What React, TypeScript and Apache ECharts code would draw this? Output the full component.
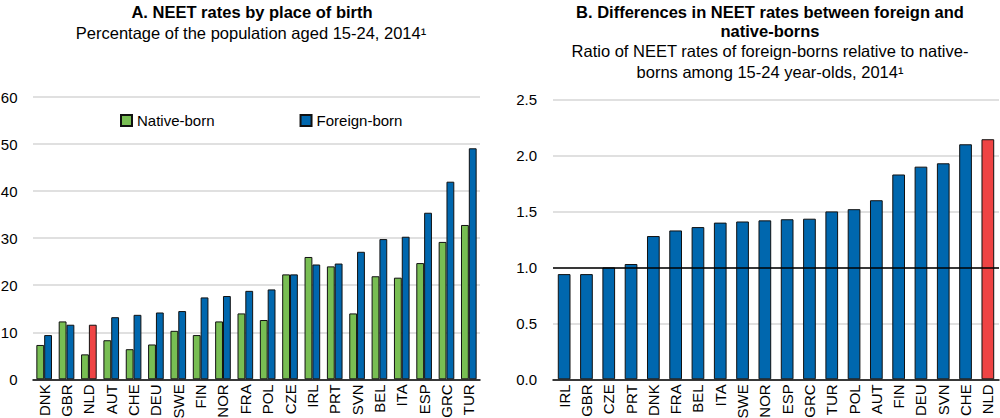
import React, { useEffect, useRef } from "react";
import * as echarts from "echarts";

const catsA = ["DNK","GBR","NLD","AUT","CHE","DEU","SWE","FIN","NOR","FRA","POL","CZE","IRL","PRT","SVN","BEL","ITA","ESP","GRC","TUR"];
const nativeBorn = [7.3,12.3,5.3,8.3,6.4,7.4,10.3,9.4,12.3,14.0,12.6,22.3,26.0,24.0,14.0,21.9,21.6,24.7,29.2,32.8];
const foreignBorn = [9.4,11.6,11.6,13.2,13.7,14.2,14.5,17.4,17.7,18.8,19.1,22.3,24.4,24.6,27.1,29.8,30.3,35.4,42.0,49.1];

const catsB = ["IRL","GBR","CZE","PRT","DNK","FRA","BEL","ITA","SWE","NOR","ESP","GRC","TUR","POL","AUT","FIN","DEU","SVN","CHE","NLD"];
const ratio = [0.94,0.94,1.0,1.03,1.28,1.33,1.36,1.40,1.41,1.42,1.43,1.435,1.50,1.52,1.60,1.83,1.90,1.93,2.10,2.145];

const highlight = ["NLD"];
const ticksA = { min: 0, max: 60, interval: 10 };
const ticksB = { min: 0, max: 2.5, interval: 0.5 };

const FONT = "'Liberation Sans', Arial, sans-serif";
const GREEN = "#78BE53";
const BLUE = "#0067AE";
const RED = "#EF4444";

export default function App() {
  const ref = useRef<HTMLDivElement>(null);
  useEffect(() => {
    document.body.style.margin = "0";
    const chart = echarts.init(ref.current!, null, { renderer: "svg" });
    const border = { borderColor: "#111", borderWidth: 1 };
    const axisLabelY = { color: "#000", fontSize: 15, fontFamily: FONT, margin: 15.5 };
    const axisLabelX = { color: "#000", fontSize: 15, fontFamily: FONT, rotate: 90, margin: 5, interval: 0 };
    const split = { show: true, lineStyle: { color: "#d6d6d6", width: 1.5 } };
    const xLine = { show: true, lineStyle: { color: "#000", width: 1.5 } };
    const txt = (text: string, x: number, y: number, bold: boolean) => ({
      type: "text",
      x,
      y,
      style: {
        text,
        fontSize: 16.5,
        fontWeight: bold ? "bold" : "normal",
        fontFamily: FONT,
        fill: "#000",
        textAlign: "center",
        textVerticalAlign: "middle",
      },
    });
    chart.setOption({
      animation: false,
      textStyle: { fontFamily: FONT },
      graphic: [
        txt("A. NEET rates by place of birth", 252, 12, true),
        txt("Percentage of the population aged 15-24, 2014¹", 251, 33, false),
        txt("B. Differences in NEET rates between foreign and", 770, 12, true),
        txt("native-borns", 770, 31, true),
        txt("Ratio of NEET rates of foreign-borns relative to native-", 770, 51, false),
        txt("borns among 15-24 year-olds, 2014¹", 770, 72, false),
      ],
      legend: {
        left: 120,
        top: 113,
        padding: 0,
        icon: "rect",
        itemWidth: 11,
        itemHeight: 11,
        itemGap: 85,
        textStyle: { color: "#000", fontSize: 15, fontFamily: FONT },
        data: ["Native-born", "Foreign-born"],
      },
      grid: [
        { left: 33, right: 520, top: 97, bottom: 38.7, outerBoundsMode: "none", containLabel: false },
        { left: 553, right: 1, top: 99.5, bottom: 38.7, outerBoundsMode: "none", containLabel: false },
      ],
      xAxis: [
        { type: "category", gridIndex: 0, data: catsA, axisLine: xLine, axisTick: { show: false }, axisLabel: axisLabelX },
        { type: "category", gridIndex: 1, data: catsB, axisLine: xLine, axisTick: { show: false }, axisLabel: axisLabelX },
      ],
      yAxis: [
        { type: "value", gridIndex: 0, ...ticksA, axisLine: { show: false }, axisTick: { show: false }, axisLabel: axisLabelY, splitLine: split },
        {
          type: "value", gridIndex: 1, ...ticksB, axisLine: { show: false }, axisTick: { show: false },
          axisLabel: { ...axisLabelY, margin: 16, formatter: (v: number) => v.toFixed(1) }, splitLine: split,
        },
      ],
      series: [
        {
          name: "Native-born", type: "bar", xAxisIndex: 0, yAxisIndex: 0,
          data: nativeBorn, barGap: "0%", barCategoryGap: "30%",
          itemStyle: { color: GREEN, ...border },
        },
        {
          name: "Foreign-born", type: "bar", xAxisIndex: 0, yAxisIndex: 0,
          data: foreignBorn.map((v, i) => highlight.includes(catsA[i]) ? { value: v, itemStyle: { color: RED } } : v),
          barGap: "0%", barCategoryGap: "30%",
          itemStyle: { color: BLUE, ...border },
        },
        {
          name: "Ratio", type: "bar", xAxisIndex: 1, yAxisIndex: 1,
          data: ratio.map((v, i) => highlight.includes(catsB[i]) ? { value: v, itemStyle: { color: RED } } : v),
          barCategoryGap: "43%",
          itemStyle: { color: BLUE, ...border },
          markLine: {
            silent: true, symbol: "none", label: { show: false },
            lineStyle: { color: "#000", width: 1.5, type: "solid" },
            data: [{ yAxis: 1 }],
          },
        },
      ],
    });
    return () => chart.dispose();
  }, []);
  return <div ref={ref} style={{ width: 1000, height: 418 }} />;
}
